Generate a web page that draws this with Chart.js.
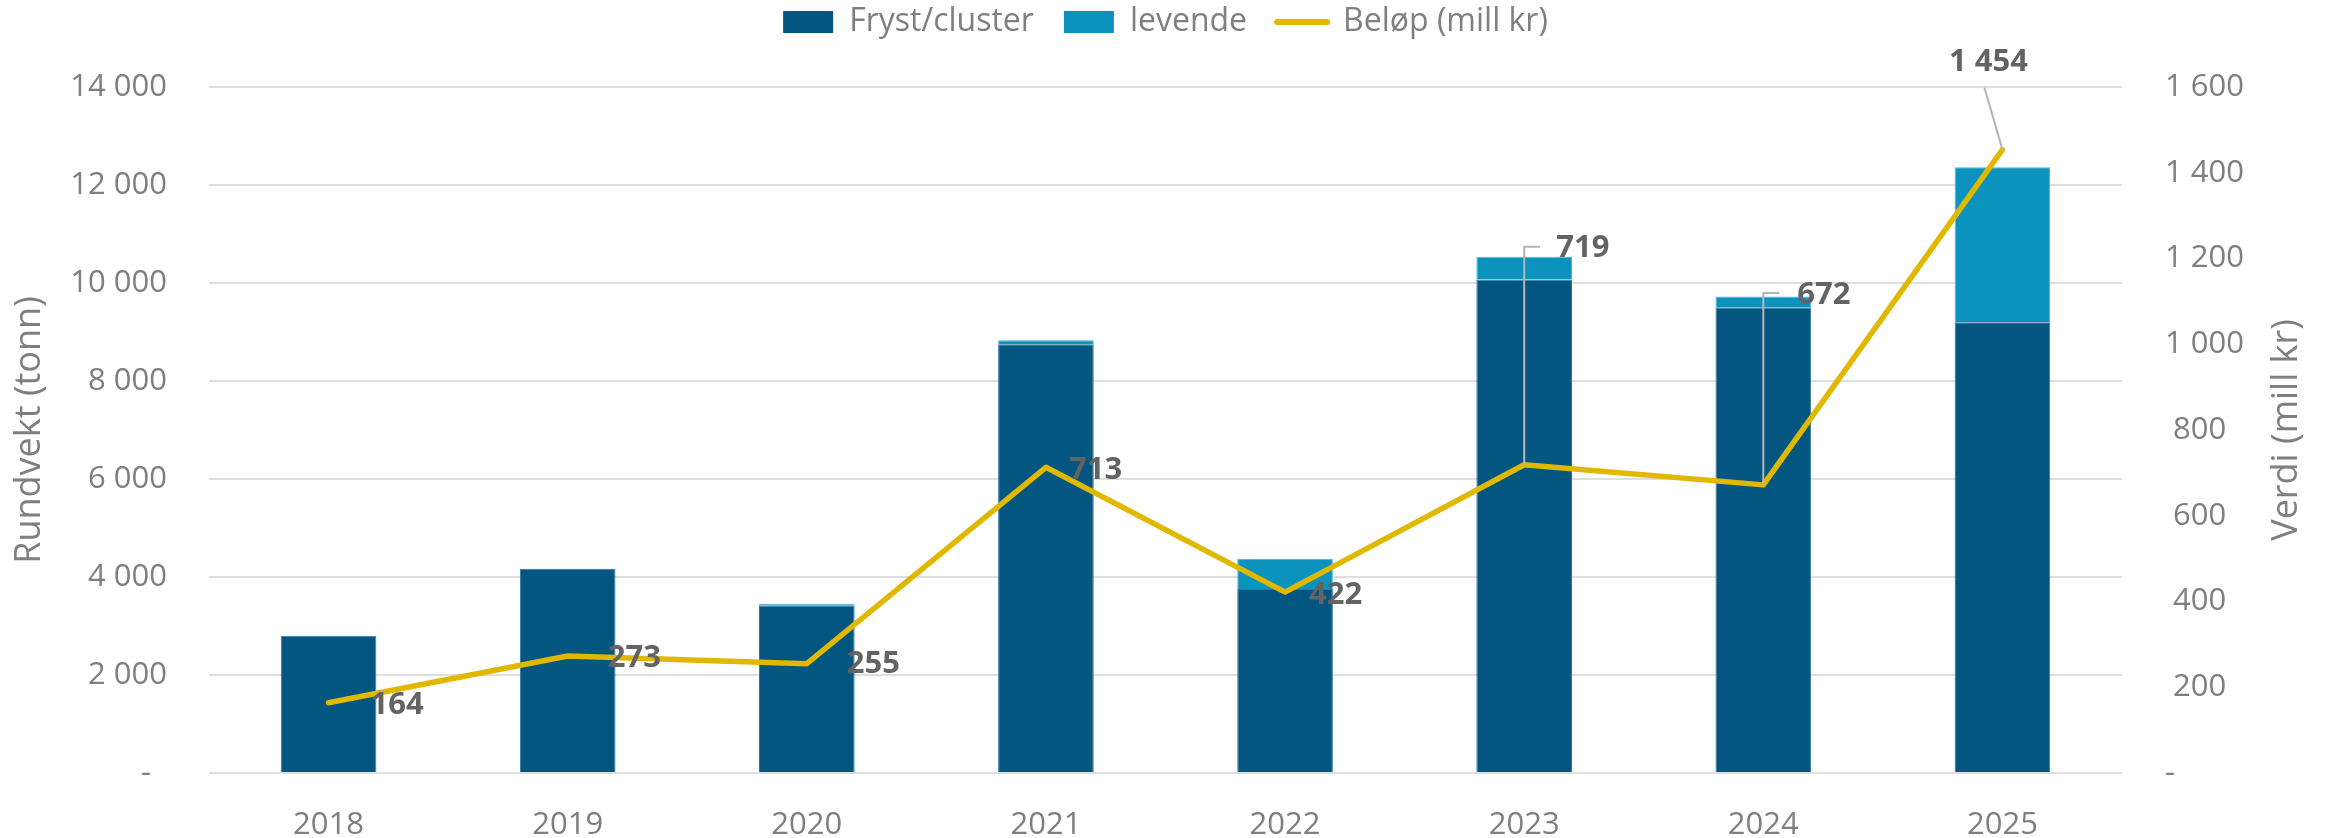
<!DOCTYPE html>
<html lang="no">
<head>
<meta charset="utf-8">
<title>Rundvekt og verdi</title>
<script src="https://cdn.jsdelivr.net/npm/chart.js@4.4.1/dist/chart.umd.min.js"></script>
<style>
  html, body { margin: 0; padding: 0; background: #ffffff; }
  #wrap { width: 2331px; height: 838px; }
</style>
</head>
<body>
<div id="wrap"><canvas id="c" width="2331" height="838"></canvas></div>
<script>
// ---------- data ----------
const YEARS = ['2018', '2019', '2020', '2021', '2022', '2023', '2024', '2025'];
const FRYST = [2800, 4170, 3415, 8750, 3755, 10070, 9495, 9200];
const LEVENDE = [0, 0, 40, 80, 620, 465, 230, 3160];
const BELOP = [164, 273, 255, 713, 422, 719, 672, 1454];
const LEFT_TICKS = ['-  ', '2 000', '4 000', '6 000', '8 000', '10 000', '12 000', '14 000'];
const RIGHT_TICKS = ['-', ' 200', ' 400', ' 600', ' 800', '1 000', '1 200', '1 400', '1 600'];
const SERIES_NAMES = ['Fryst/cluster', 'levende', 'Beløp (mill kr)'];
const AXIS_TITLES = ['Rundvekt (tonn)', 'Verdi (mill kr)'];

// ---------- styling / label placement (pixels relative to each point) ----------
const COLORS = { fryst: '#03567f', levende: '#0b93bd', line: '#e1b800', text: '#7f7f7f', label: '#636363', grid: '#dedede', leader: '#b5b5b5' };
const LEGEND_PAD = 30;
const LABEL_PLACEMENT = [
  { dx: 42, dy: 2 },
  { dx: 40, dy: 2 },
  { dx: 40, dy: 1 },
  { dx: 23, dy: 3 },
  { dx: 24, dy: 3 },
  { dx: 32, dy: -217, elbow: { dy: -218, dx: 16 } },
  { dx: 34, dy: -190, elbow: { dy: -192, dx: 16 } },
  { dx: -14, dy: -87, align: 'center', straight: { dx: -18, dy: -62 } }
];

function fmt(v) { return String(v).replace(/\B(?=(\d{3})+(?!\d))/g, ' '); }

Chart.defaults.font.family = "'Open Sans', sans-serif";
Chart.defaults.color = COLORS.text;

const labelPlugin = {
  id: 'valueLabels',
  afterDatasetsDraw(chart) {
    const meta = chart.getDatasetMeta(2);
    const ctx = chart.ctx;
    ctx.save();
    meta.data.forEach((pt, i) => {
      const p = LABEL_PLACEMENT[i];
      const x = pt.x, y = pt.y;
      ctx.strokeStyle = COLORS.leader;
      ctx.lineWidth = 2;
      if (p.elbow) {
        ctx.beginPath();
        ctx.moveTo(x, y);
        ctx.lineTo(x, y + p.elbow.dy);
        ctx.lineTo(x + p.elbow.dx, y + p.elbow.dy);
        ctx.stroke();
      }
      if (p.straight) {
        ctx.beginPath();
        ctx.moveTo(x, y);
        ctx.lineTo(x + p.straight.dx, y + p.straight.dy);
        ctx.stroke();
      }
      ctx.font = "bold 31px 'Open Sans', sans-serif";
      ctx.fillStyle = COLORS.label;
      ctx.textBaseline = 'middle';
      ctx.textAlign = p.align || 'left';
      ctx.fillText(fmt(BELOP[i]), x + p.dx, y + p.dy);
    });
    ctx.restore();
  }
};

const layoutPlugin = {
  id: 'layoutTweaks',
  afterLayout(chart) {
    const lg = chart.legend;
    if (lg) {
      const h = lg.height;
      lg.top = 22 - LEGEND_PAD - 16;
      lg.bottom = lg.top + h;
    }
  },
  afterDraw(chart) {
    const ctx = chart.ctx;
    const area = chart.chartArea;
    ctx.save();
    ctx.translate(2287, (area.top + area.bottom) / 2);
    ctx.rotate(-Math.PI / 2);
    ctx.font = "36px 'Open Sans', sans-serif";
    ctx.fillStyle = COLORS.text;
    ctx.textAlign = 'center';
    ctx.textBaseline = 'middle';
    ctx.fillText(AXIS_TITLES[1], 0, 0);
    ctx.restore();
  }
};

new Chart(document.getElementById('c'), {
  data: {
    labels: YEARS,
    datasets: [
      { type: 'bar', label: SERIES_NAMES[0], data: FRYST, backgroundColor: COLORS.fryst, borderColor: '#2f77a0', borderWidth: 1, yAxisID: 'y', stack: 's', order: 1 },
      { type: 'bar', label: SERIES_NAMES[1], data: LEVENDE, backgroundColor: COLORS.levende, borderColor: '#4fb3d8', borderWidth: 1, yAxisID: 'y', stack: 's', order: 1 },
      { type: 'line', label: SERIES_NAMES[2], data: BELOP, borderColor: COLORS.line, backgroundColor: COLORS.line, borderWidth: 5.5, pointRadius: 0, tension: 0, borderCapStyle: 'round', borderJoinStyle: 'round', yAxisID: 'y1', order: 0 }
    ]
  },
  options: {
    responsive: false,
    animation: false,
    devicePixelRatio: 1,
    layout: { padding: { top: 15, left: 0, right: 0, bottom: 0 } },
    datasets: { bar: { categoryPercentage: 1, barPercentage: 0.4 } },
    plugins: {
      tooltip: { enabled: false },
      legend: {
        position: 'top',
        labels: {
          usePointStyle: true,
          pointStyleWidth: 50,
          boxHeight: 22,
          padding: LEGEND_PAD,
          color: COLORS.text,
          font: { size: 32 },
          generateLabels(chart) {
            return chart.data.datasets.map((ds, i) => ({
              text: ds.label,
              fillStyle: ds.backgroundColor,
              strokeStyle: ds.type === 'line' ? ds.borderColor : ds.backgroundColor,
              lineWidth: ds.type === 'line' ? 6 : 0,
              lineCap: 'round',
              pointStyle: ds.type === 'line' ? 'line' : 'rect',
              fontColor: COLORS.text,
              hidden: false,
              datasetIndex: i
            }));
          }
        }
      }
    },
    scales: {
      x: {
        stacked: true,
        grid: { display: false },
        border: { display: false },
        ticks: { font: { size: 31 }, color: COLORS.text, padding: 26, maxRotation: 0 },
        afterFit(s) { s.height = 65; }
      },
      y: {
        position: 'left',
        stacked: true,
        min: 0, max: 14000,
        ticks: { stepSize: 2000, font: { size: 31 }, color: COLORS.text, padding: 42, callback: (v, i) => LEFT_TICKS[i] },
        grid: { color: COLORS.grid, lineWidth: 2, drawTicks: false },
        border: { display: false },
        title: { display: true, text: AXIS_TITLES[0], font: { size: 36 }, color: COLORS.text, padding: { top: 8, bottom: 0 } },
        afterFit(s) { s.width = 209; }
      },
      y1: {
        position: 'right',
        min: 0, max: 1600,
        ticks: { stepSize: 200, font: { size: 31 }, color: COLORS.text, padding: 43, callback: (v, i) => RIGHT_TICKS[i] },
        grid: { drawOnChartArea: false, drawTicks: false },
        border: { display: false },
        afterFit(s) { s.width = 209; }
      }
    }
  },
  plugins: [labelPlugin, layoutPlugin]
});
</script>
</body>
</html>
